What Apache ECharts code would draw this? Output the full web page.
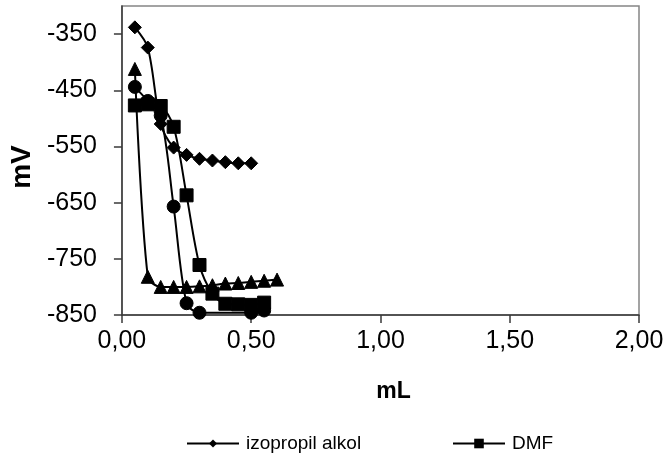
<!DOCTYPE html>
<html>
<head>
<meta charset="utf-8">
<script src="https://cdn.jsdelivr.net/npm/echarts@6/dist/echarts.min.js"></script>
<style>
html,body{margin:0;padding:0;background:#fff;}
#c{width:668px;height:461px;}
</style>
</head>
<body>
<div id="c"></div>
<script>
// ---- data ----
const xTickValues = [0, 0.5, 1, 1.5, 2];
const yTickValues = [-850, -750, -650, -550, -450, -350];

const izoName = 'izopropil alkol';
const izoX = [0.05, 0.10, 0.15, 0.20, 0.25, 0.30, 0.35, 0.40, 0.45, 0.50];
const izoY = [-338, -374, -510, -552, -565, -572, -575, -578, -580, -580];

const dmfName = 'DMF';
const dmfX = [0.05, 0.10, 0.15, 0.20, 0.25, 0.30, 0.35, 0.40, 0.45, 0.50, 0.55];
const dmfY = [-477, -475, -478, -515, -637, -761, -812, -830, -831, -832, -828];

const circName = 'seri 3';
const circX = [0.05, 0.10, 0.15, 0.20, 0.25, 0.30, 0.50, 0.55];
const circY = [-444, -469, -495, -657, -829, -846, -846, -842];

const triName = 'seri 4';
const triX = [0.05, 0.10, 0.15, 0.20, 0.25, 0.30, 0.35, 0.40, 0.45, 0.50, 0.55, 0.60];
const triY = [-412, -782, -800, -800, -800, -799, -797, -794, -793, -791, -789, -787];

function pairs(xs, ys) { return xs.map((x, i) => [x, ys[i]]); }

const chart = echarts.init(document.getElementById('c'), null, {renderer: 'canvas'});
const FONT = 'Liberation Sans, Arial, sans-serif';

function lineSeries(name, xs, ys, symbol, size, z) {
  return {
    name: name,
    type: 'line',
    data: pairs(xs, ys),
    smooth: 0.3,
    symbol: symbol,
    symbolSize: size,
    showAllSymbol: true,
    lineStyle: {color: '#000', width: 2},
    itemStyle: {color: '#000', borderColor: '#000'},
    z: z,
    animation: false
  };
}

chart.setOption({
  animation: false,
  backgroundColor: '#fff',
  grid: {
    left: 89, right: 29, top: 6, bottom: 146,
    show: true, borderColor: '#858585', borderWidth: 1.5, backgroundColor: 'transparent'
  },
  legend: [
    {
      data: [izoName],
      left: 186, top: 434, padding: 0,
      itemWidth: 52, itemHeight: 10, itemGap: 0,
      textStyle: {fontFamily: FONT, fontSize: 19, color: '#000', padding: [0,0,0,2]},
      selectedMode: false
    },
    {
      data: [dmfName],
      left: 452, top: 434, padding: 0,
      itemWidth: 52, itemHeight: 12, itemGap: 0,
      textStyle: {fontFamily: FONT, fontSize: 19, color: '#000', padding: [0,0,0,2]},
      selectedMode: false
    }
  ],
  xAxis: {
    type: 'value',
    min: 0, max: 2, interval: 0.5,
    name: 'mL',
    nameLocation: 'middle',
    nameGap: 65,
    nameTextStyle: {fontFamily: FONT, fontSize: 23, fontWeight: 'bold', color: '#000', padding: [0,0,0,26]},
    axisLine: {show: true, onZero: false, lineStyle: {color: '#3a3a3a', width: 1.5}},
    axisTick: {show: true, inside: false, length: 8, customValues: xTickValues, lineStyle: {color: '#3a3a3a', width: 1.5}},
    axisLabel: {
      customValues: xTickValues,
      fontFamily: FONT, fontSize: 25, color: '#000', margin: 14,
      formatter: v => v.toFixed(2).replace('.', ',')
    },
    splitLine: {show: false}
  },
  yAxis: {
    type: 'value',
    min: -850, max: -300, interval: 100,
    name: 'mV',
    nameLocation: 'middle',
    nameGap: 46,
    nameRotate: 90,
    nameTextStyle: {fontFamily: FONT, fontSize: 28, fontWeight: 'bold', color: '#000', padding: [0,13,0,0]},
    axisLine: {show: true, onZero: false, lineStyle: {color: '#3a3a3a', width: 1.5}},
    axisTick: {show: true, inside: false, length: 8, customValues: yTickValues, lineStyle: {color: '#3a3a3a', width: 1.5}},
    axisLabel: {
      customValues: yTickValues,
      fontFamily: FONT, fontSize: 25, color: '#000', margin: 25
    },
    splitLine: {show: false}
  },
  series: [
    lineSeries(triName, triX, triY, 'triangle', 13, 2),
    lineSeries(circName, circX, circY, 'circle', 13, 3),
    lineSeries(dmfName, dmfX, dmfY, 'rect', 13, 4),
    lineSeries(izoName, izoX, izoY, 'diamond', 13, 5)
  ]
});
</script>
</body>
</html>
